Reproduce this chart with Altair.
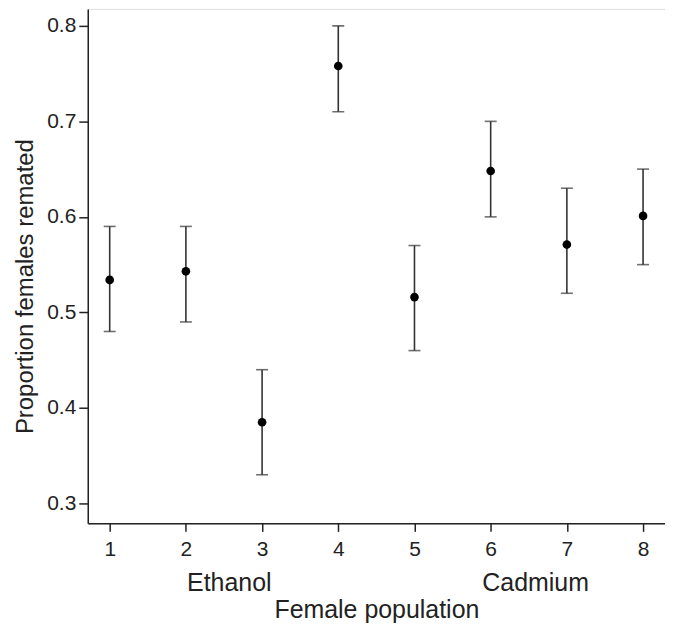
import altair as alt
import pandas as pd

population = [1, 2, 3, 4, 5, 6, 7, 8]
proportion = [0.534, 0.543, 0.385, 0.758, 0.516, 0.648, 0.571, 0.601]
lower = [0.48, 0.49, 0.33, 0.71, 0.46, 0.60, 0.52, 0.55]
upper = [0.59, 0.59, 0.44, 0.80, 0.57, 0.70, 0.63, 0.65]

group_names = ["Ethanol", "Cadmium"]
group_pos = [2.57, 6.59]

df = pd.DataFrame({"pop": population, "prop": proportion, "lo": lower, "hi": upper})
gdf = pd.DataFrame({"name": group_names, "pos": group_pos})

FONT = "Liberation Sans"
xscale = alt.Scale(domain=[0.712, 8.288], nice=False, zero=False)
yscale = alt.Scale(domain=[0.2791, 0.8177], nice=False, zero=False)

xaxis = alt.Axis(
    title="Female population", values=population, format="d", grid=False,
    tickSize=8, labelPadding=7, labelFontSize=21, labelFont=FONT,
    titleFont=FONT, titleFontSize=25, titleFontWeight="normal",
    titlePadding=38, labelColor="#222", titleColor="#222",
    domainColor="#222", tickColor="#222", domainWidth=1.5, tickWidth=1.5,
)
yaxis = alt.Axis(
    title="Proportion females remated", values=[0.3, 0.4, 0.5, 0.6, 0.7, 0.8],
    format=".1f", grid=False, tickSize=9, labelPadding=3, labelFontSize=21,
    labelFont=FONT, titleFont=FONT, titleFontSize=24, titleFontWeight="normal",
    titlePadding=9, titleY=278, labelColor="#222", titleColor="#222",
    domainColor="#222", tickColor="#222", domainWidth=1.5, tickWidth=1.5,
)

base = alt.Chart(df)

rules = base.mark_rule(color="#333", strokeWidth=1.6).encode(
    x=alt.X("pop:Q", scale=xscale, axis=xaxis),
    y=alt.Y("lo:Q", scale=yscale, axis=yaxis),
    y2="hi:Q",
)
caps_hi = base.mark_tick(color="#333", thickness=1.6, size=12, orient="horizontal").encode(
    x=alt.X("pop:Q", scale=xscale), y=alt.Y("hi:Q", scale=yscale)
)
caps_lo = base.mark_tick(color="#333", thickness=1.6, size=12, orient="horizontal").encode(
    x=alt.X("pop:Q", scale=xscale), y=alt.Y("lo:Q", scale=yscale)
)
points = base.mark_circle(color="black", opacity=1, size=75).encode(
    x=alt.X("pop:Q", scale=xscale), y=alt.Y("prop:Q", scale=yscale)
)
groups = alt.Chart(gdf).mark_text(
    font=FONT, fontSize=25, color="#222", baseline="middle", align="center"
).encode(
    x=alt.X("pos:Q", scale=xscale), y=alt.value(576), text="name:N"
)

chart = (
    alt.layer(rules, caps_hi, caps_lo, points, groups)
    .properties(
        width=579, height=516,
        autosize=alt.AutoSizeParams(type="none"),
        padding={"left": 80, "top": 0, "right": 0, "bottom": 103},
    )
    .configure_view(stroke="#222", strokeWidth=1.5)
    .configure(background="white")
)

chart.save("out.html", embed_options={"renderer": "svg", "actions": False})
